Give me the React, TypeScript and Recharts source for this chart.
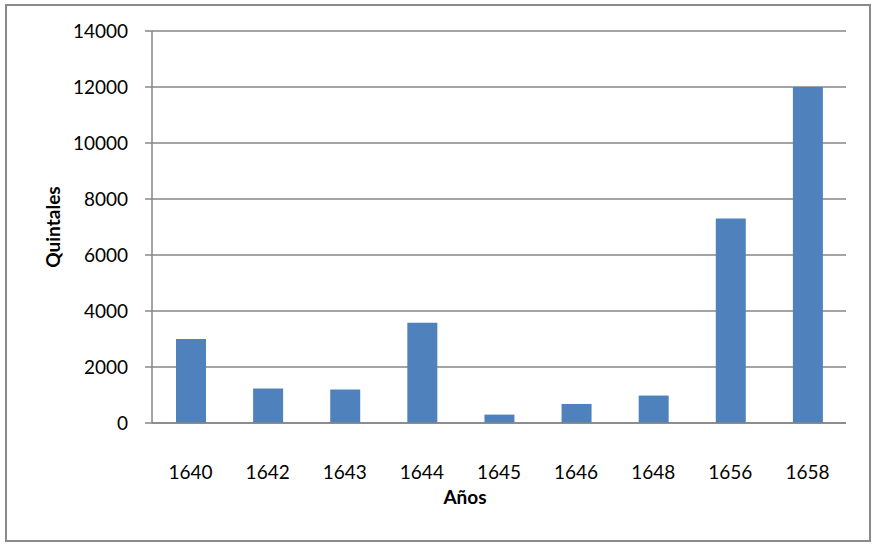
import React from "react";
import { BarChart, Bar, XAxis, YAxis, CartesianGrid, Label } from "recharts";

const years = ["1640", "1642", "1643", "1644", "1645", "1646", "1648", "1656", "1658"];
const quintales = [3000, 1230, 1200, 3580, 300, 680, 980, 7300, 12000];
const yTicks = [0, 2000, 4000, 6000, 8000, 10000, 12000, 14000];

const data = years.map((y, i) => ({ year: y, value: quintales[i] }));

const FONT = "Lato, 'Open Sans', sans-serif";
const GREY = "#868686";

export default function App() {
  return (
    <div style={{ position: "absolute", left: 0, top: 0, width: 878, height: 546, background: "#fff" }}>
      <div
        style={{
          position: "absolute",
          left: 5,
          top: 4,
          width: 866,
          height: 538,
          border: "2px solid #8a8a8a",
          boxSizing: "border-box",
        }}
      />
      <div style={{ position: "absolute", left: 0, top: 0 }}>
        <BarChart
          width={878}
          height={546}
          data={data}
          margin={{ top: 31, right: 32, left: 0, bottom: 0 }}
          style={{ fontFamily: FONT }}
        >
          <CartesianGrid vertical={false} stroke={GREY} strokeWidth={1.5} />
          <XAxis
            dataKey="year"
            height={123}
            tickLine={false}
            axisLine={{ stroke: GREY, strokeWidth: 1.5 }}
            tickSize={0}
            tickMargin={43}
            tick={{ fill: "#000", fontSize: 19, fontFamily: FONT }}
            interval={0}
          >
            <Label
              content={(props: any) => {
                const vb = props.viewBox || {};
                return (
                  <text
                    x={465}
                    y={vb.y + 81}
                    textAnchor="middle"
                    fontFamily={FONT}
                    fontWeight="bold"
                    fontSize={19}
                    fill="#000"
                  >
                    Años
                  </text>
                );
              }}
            />
          </XAxis>
          <YAxis
            width={152}
            domain={[0, 14000]}
            ticks={yTicks}
            interval={0}
            tickSize={7}
            tickMargin={17}
            tickLine={{ stroke: GREY, strokeWidth: 1.5 }}
            axisLine={{ stroke: GREY, strokeWidth: 1.5 }}
            tick={{ fill: "#000", fontSize: 19, fontFamily: FONT }}
          >
            <Label
              content={(props: any) => {
                const vb = props.viewBox || {};
                const cy = vb.y + vb.height / 2;
                return (
                  <text
                    x={52}
                    y={cy}
                    transform={`rotate(-90, 52, ${cy})`}
                    textAnchor="middle"
                    dominantBaseline="central"
                    fontFamily={FONT}
                    fontWeight="bold"
                    fontSize={19}
                    fill="#000"
                  >
                    Quintales
                  </text>
                );
              }}
            />
          </YAxis>
          <Bar dataKey="value" fill="#4F81BD" barSize={30} isAnimationActive={false} />
        </BarChart>
      </div>
    </div>
  );
}
